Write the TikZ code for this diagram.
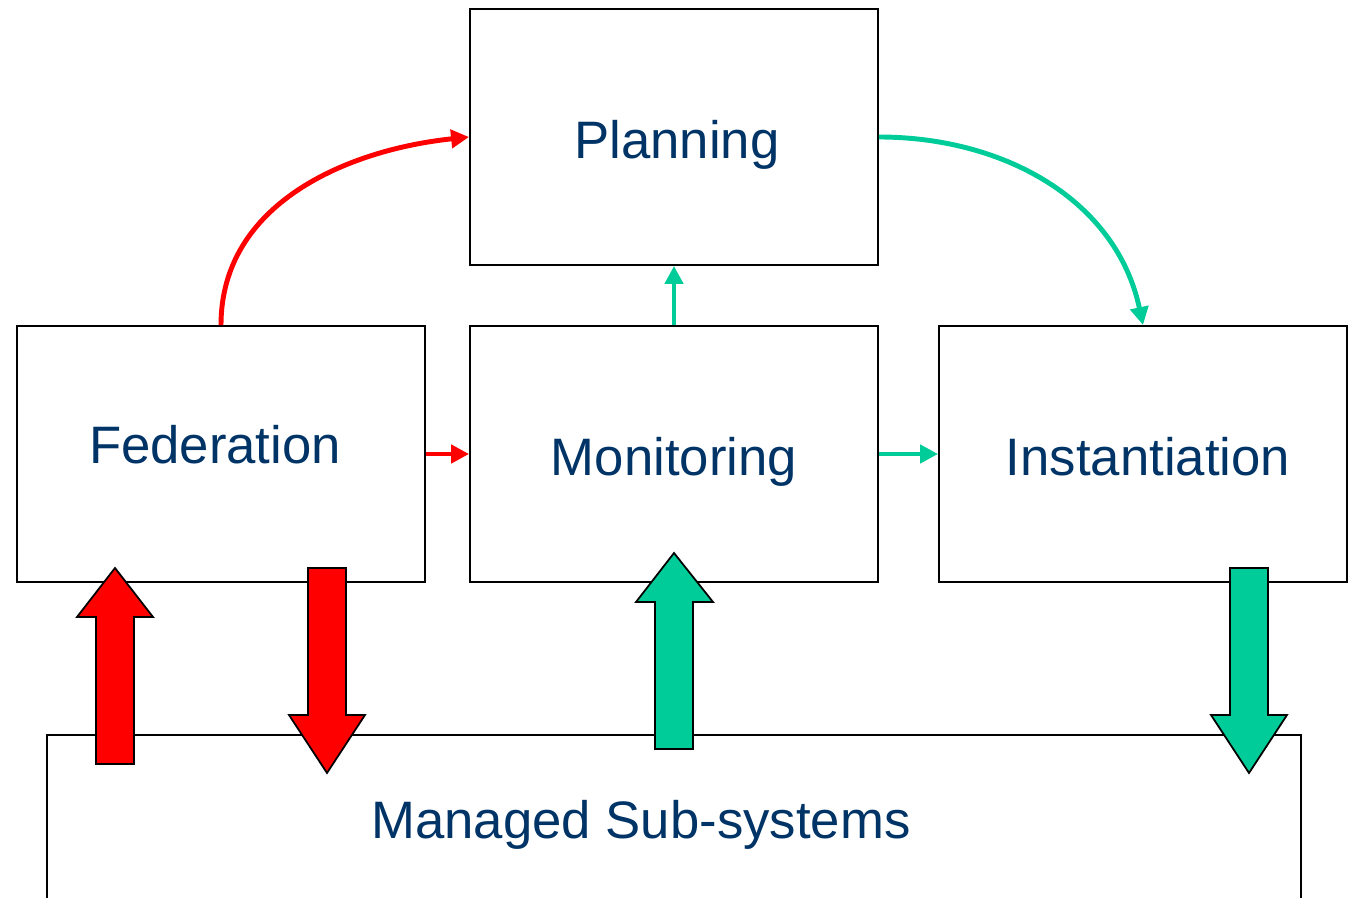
\documentclass[tikz,border=0pt]{standalone}
\usepackage{fontspec}
\setmainfont{Liberation Sans}
\usetikzlibrary{arrows.meta}

\definecolor{fedred}{RGB}{255,0,0}
\definecolor{mongreen}{RGB}{0,204,153}
\definecolor{txtblue}{RGB}{0,51,102}

\tikzset{
  box/.style={draw, line width=1.1pt, minimum width=8.16cm, minimum height=5.12cm,
    inner sep=0pt},
  boxtext/.style={text=txtblue, inner sep=0pt, font=\fontsize{30}{36}\selectfont},
  redline/.style={draw=fedred, line width=2.8pt, -{Triangle[length=0.36cm,width=0.36cm]}},
  greenline/.style={draw=mongreen, line width=2.8pt, -{Triangle[length=0.36cm,width=0.36cm]}},
  bigred/.style={fill=fedred, draw=black, line width=1pt, line join=miter},
  biggreen/.style={fill=mongreen, draw=black, line width=1pt, line join=miter}
}

\begin{document}
\begin{tikzpicture}[x=0.02cm, y=-0.02cm]

\useasboundingbox (0,0) rectangle (1353,898);

%% Boxes %%
\node[box] (plan) at (674,137) {};
\node[box] (fed) at (221,454) {};
\node[box] (mon) at (674,454) {};
\node[box] (inst) at (1143,454) {};

% managed sub-systems, cut off at the bottom %
\node[box, minimum width=25.08cm, minimum height=4cm] (managed) at (674,835) {};

%% Texts %%
\node[boxtext] (plantext) at (677,145) {Planning};
\node[boxtext] (fedtext) at (215,445) {Federation};
\node[boxtext] (montext) at (674,462) {Monitoring};
\node[boxtext] (insttext) at (1148,457) {Instantiation};
\node[boxtext] (managedtext) at (641,825) {Managed Sub-systems};

%% Connection arrows %%
% red side %
\draw[redline] (fed.north) to[out=90, in=186] (plan.west);
\draw[redline] (fed.east) -- (mon.west);

% green side %
\draw[greenline] (mon.north) -- (plan.south);
\draw[greenline] (mon.east) -- (inst.west);
\draw[greenline] (plan.east) to[out=0, in=102] (inst.north);

%% Block arrows %%
% federation up and down %
\draw[bigred] (96,764) -- (96,617) -- (77,617) -- (115,568) -- (153,617)
  -- (134,617) -- (134,764) -- cycle;
\draw[bigred] (308,568) -- (308,715) -- (289,715) -- (327,773) -- (365,715)
  -- (346,715) -- (346,568) -- cycle;

% monitoring up %
\draw[biggreen] (655,749) -- (655,602) -- (636,602) -- (674,553) -- (713,602)
  -- (693,602) -- (693,749) -- cycle;

% instantiation down %
\draw[biggreen] (1230,568) -- (1230,715) -- (1211,715) -- (1249,773) -- (1287,715)
  -- (1268,715) -- (1268,568) -- cycle;

\end{tikzpicture}
\end{document}
